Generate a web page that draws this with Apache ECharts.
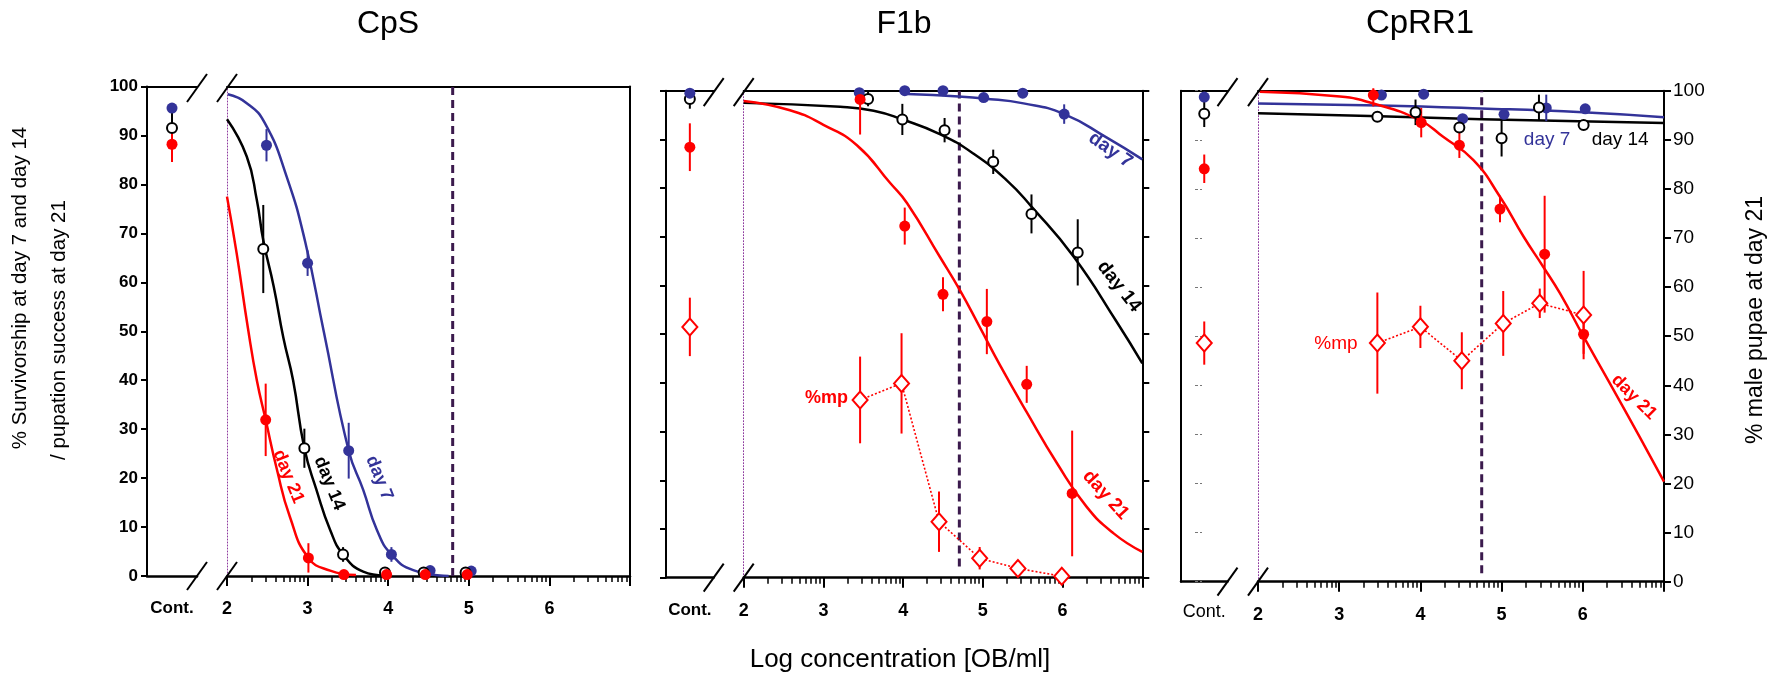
<!DOCTYPE html>
<html><head><meta charset="utf-8">
<script src="https://cdn.jsdelivr.net/npm/echarts@6/dist/echarts.min.js"></script>
<style>html,body{margin:0;padding:0;background:#fff}#c{width:1778px;height:682px}</style>
</head><body><div id="c"></div>
<script>
const FONT = '"Liberation Sans", Arial, Helvetica, sans-serif';
const BLUE = '#333399', RED = '#ff0000', BLACK = '#000000', DASH = '#3b1a4d', DOT = '#8e3a9e';

// ---------- labels / ticks ----------
const panelTitles = ['CpS', 'F1b', 'CpRR1'];
const contLabel = ['Cont.'];
const xMajorTicks = [2, 3, 4, 5, 6];
const xMinorFactors = [2, 3, 4, 5, 6, 7, 8, 9];
const xTitle = 'Log concentration [OB/ml]';
const yTitleLeft = ['% Survivorship at day 7 and day 14', '/ pupation success at day 21'];
const yTitleRight = '% male pupae at day 21';

// ---------- CpS ----------
const cpsCont = [95.6, 91.5, 88.2];          // day7, day14, day21
const cpsContErr = [0.8, 4.0, 3.6];
const cpsD7Conc = [2.49, 3.0, 3.51, 4.04, 4.52, 5.03];
const cpsD7Val = [88.0, 63.9, 25.6, 4.4, 1.1, 1.0];
const cpsD7Err = [3.3, 2.6, 5.7, 1.5, 0, 0];
const cpsD14Conc = [2.45, 2.96, 3.44, 3.96, 4.44, 4.96];
const cpsD14Val = [66.8, 26.1, 4.4, 0.7, 0.7, 0.7];
const cpsD14Err = [9.0, 4.0, 1.5, 0, 0, 0];
const cpsD21Conc = [2.48, 3.01, 3.45, 3.98, 4.46, 4.98];
const cpsD21Val = [31.9, 3.7, 0.3, 0.3, 0.3, 0.3];
const cpsD21Err = [7.4, 3.0, 0, 0, 0, 0];
const cpsD7FitConc = [2.01, 2.245, 2.47, 2.74, 2.97, 3.2, 3.51, 3.69, 3.86, 4.04, 4.31, 4.75];
const cpsD7FitVal = [98.4, 96.6, 92.5, 81.6, 68.3, 50.0, 25.6, 17.6, 9.4, 4.4, 1.2, 0.0];
const cpsD14FitConc = [2.0, 2.245, 2.37, 2.45, 2.58, 2.7, 2.82, 2.96, 3.11, 3.28, 3.44, 3.69, 3.95];
const cpsD14FitVal = [93.3, 85.7, 76.8, 68.6, 59.1, 48.6, 40.0, 26.1, 17.6, 9.4, 4.4, 0.9, 0.1];
const cpsD21FitConc = [2.0, 2.12, 2.26, 2.37, 2.48, 2.62, 2.78, 3.01, 3.28, 3.6];
const cpsD21FitVal = [77.5, 65.9, 50.6, 40.0, 31.9, 21.7, 12.1, 3.7, 1.1, 0.2];
const cpsDash = [4.80, 0, 100];

// ---------- F1b ----------
const f1bCont = [99.5, 98.3, 88.4];
const f1bContErr = [0.5, 2.0, 4.9];
const f1bContMp = [51.5];
const f1bContMpErr = [6.0];
const f1bD7Conc = [3.45, 4.02, 4.50, 5.01, 5.50, 6.02];
const f1bD7Val = [99.6, 100, 100, 98.6, 99.5, 95.2];
const f1bD7Err = [0, 0, 0, 0, 0, 2.0];
const f1bD14Conc = [3.56, 3.99, 4.52, 5.13, 5.61, 6.19];
const f1bD14Val = [98.3, 94.1, 91.9, 85.4, 74.7, 66.8];
const f1bD14Err = [1.5, 3.2, 2.5, 2.5, 4.0, 6.8];
const f1bD21Conc = [3.46, 4.02, 4.50, 5.05, 5.55, 6.12];
const f1bD21Val = [98.2, 72.2, 58.2, 52.6, 39.7, 17.3];
const f1bD21Err = [7.2, 3.8, 3.5, 6.7, 3.8, 12.9];
const f1bMpConc = [3.46, 3.98, 4.45, 4.96, 5.44, 5.99];
const f1bMpVal = [36.5, 39.9, 11.5, 4.0, 1.9, 0.3];
const f1bMpErr = [8.9, 10.3, 6.2, 2.3, 1.5, 0];
const f1bD7FitConc = [4.05, 4.7, 5.01, 5.51, 6.02, 6.55, 7.0];
const f1bD7FitVal = [99.3, 98.8, 98.4, 97.4, 95.2, 90.4, 85.9];
const f1bD14FitConc = [2.0, 3.21, 3.63, 3.99, 4.46, 4.88, 5.30, 5.61, 6.14, 6.68, 7.0];
const f1bD14FitVal = [97.5, 96.7, 95.9, 94.1, 91.1, 87.1, 81.6, 76.2, 65.9, 52.5, 44.0];
const f1bD21FitConc = [2.0, 2.58, 3.0, 3.42, 3.84, 4.05, 4.46, 4.71, 4.96, 5.22, 5.55, 5.93, 6.30, 6.64, 7.0];
const f1bD21FitVal = [97.9, 96.0, 93.0, 88.8, 81.0, 76.9, 65.9, 59.1, 51.5, 43.5, 34.0, 23.5, 14.6, 9.1, 5.3];
const f1bDash = [4.705, 2.3, 100];

// ---------- CpRR1 ----------
const cprCont = [98.7, 95.3, 84.1];
const cprContErr = [0.5, 2.7, 2.9];
const cprContMp = [48.6];
const cprContMpErr = [4.4];
const cprD7Conc = [3.52, 4.04, 4.52, 5.03, 5.55, 6.03];
const cprD7Val = [99.1, 99.3, 94.3, 95.2, 96.5, 96.3];
const cprD7Err = [0, 0, 0, 0, 2.7, 0];
const cprD14Conc = [3.47, 3.94, 4.48, 5.0, 5.46, 6.01];
const cprD14Val = [94.7, 95.6, 92.5, 90.3, 96.6, 93.0];
const cprD14Err = [0, 2.6, 1.0, 3.7, 2.6, 0];
const cprD21Conc = [3.42, 4.01, 4.48, 4.98, 5.53, 6.01];
const cprD21Val = [99.1, 93.5, 88.9, 75.9, 66.7, 50.4];
const cprD21Err = [2.3, 3.0, 2.6, 2.7, 11.9, 4.0];
const cprMpConc = [3.47, 4.0, 4.51, 5.02, 5.47, 6.01];
const cprMpVal = [48.6, 51.9, 45.0, 52.6, 56.7, 54.3];
const cprMpErr = [10.3, 4.3, 5.8, 6.6, 3.0, 9.0];
const cprD7FitConc = [2.0, 3.5, 4.75, 6.0, 7.0];
const cprD7FitVal = [97.4, 97.0, 96.4, 95.6, 94.6];
const cprD14FitConc = [2.0, 3.5, 4.75, 7.0];
const cprD14FitVal = [95.4, 94.8, 94.2, 93.4];
const cprD21FitConc = [2.02, 3.01, 3.42, 3.99, 4.28, 4.65, 4.98, 5.27, 5.51, 5.72, 6.01, 6.33, 6.70, 7.0];
const cprD21FitVal = [99.8, 98.8, 97.4, 94.0, 90.6, 85.9, 78.4, 70.3, 64.2, 58.7, 49.9, 40.5, 29.5, 20.4];
const cprDash = [4.755, 1.7, 100];

// ---------- layout ----------
const grids = [
  { left: 147, top: 86.5, width: 50, height: 489.5 },
  { left: 227, top: 86.5, width: 403, height: 489.5 },
  { left: 666, top: 90.7, width: 47.7, height: 487 },
  { left: 743.7, top: 90.7, width: 398.6, height: 487 },
  { left: 1181, top: 90.7, width: 46.5, height: 491 },
  { left: 1258, top: 90.7, width: 406, height: 491 }
];

const minorTicks = [];
for (let d = 2; d < 7; d++) xMinorFactors.forEach(k => minorTicks.push(d + Math.log10(k)));

const xAxes = [], yAxes = [];
function addX(o) { xAxes.push(Object.assign({ splitLine: { show: false }, axisLine: { onZero: false } }, o)); return xAxes.length - 1; }
function addY(o) { yAxes.push(Object.assign({ type: 'value', min: 0, max: 100, interval: 10, splitLine: { show: false } }, o)); return yAxes.length - 1; }

const lineBlack = (w) => ({ show: true, onZero: false, lineStyle: { color: BLACK, width: w } });
const noTick = { show: false }, noLabel = { show: false };

const P = []; // per-panel axis indices
[0, 1, 2].forEach(p => {
  const gc = p * 2, gm = p * 2 + 1;
  const contBold = p < 2 ? 'bold' : 'normal';
  const cx = addX({ gridIndex: gc, type: 'category', data: contLabel, position: 'bottom',
    axisLine: lineBlack(2.5), axisTick: { alignWithLabel: true, length: 9, lineStyle: { color: BLACK, width: 2 } },
    axisLabel: { margin: p < 2 ? 24 : 21, fontSize: p < 2 ? 17 : 18, fontWeight: contBold, color: BLACK, fontFamily: FONT } });
  addX({ gridIndex: gc, type: 'value', min: 0, max: 1, position: 'top', axisLine: lineBlack(2), axisTick: noTick, axisLabel: noLabel });
  const mx = addX({ gridIndex: gm, type: 'value', min: 2, max: 7, interval: 1, position: 'bottom',
    axisLine: lineBlack(2.5), axisTick: { length: 10, lineStyle: { color: BLACK, width: 2 } },
    axisLabel: { customValues: xMajorTicks, margin: 24, fontSize: 18, fontWeight: 'bold', color: BLACK, fontFamily: FONT } });
  addX({ gridIndex: gm, type: 'value', min: 2, max: 7, position: 'bottom', axisLine: { show: false, onZero: false },
    axisTick: { show: true, length: 6, customValues: minorTicks, lineStyle: { color: BLACK, width: 1.5 } }, axisLabel: noLabel });
  addX({ gridIndex: gm, type: 'value', min: 2, max: 7, position: 'top', axisLine: lineBlack(2), axisTick: noTick, axisLabel: noLabel });

  let cy;
  if (p === 0) {
    cy = addY({ gridIndex: gc, position: 'left', axisLine: lineBlack(2), axisTick: { length: 6, lineStyle: { color: BLACK, width: 2 } },
      axisLabel: { margin: 9, fontSize: 17, fontWeight: 'bold', color: BLACK, fontFamily: FONT } });
  } else if (p === 1) {
    cy = addY({ gridIndex: gc, position: 'left', axisLine: lineBlack(2), axisTick: { length: 6, lineStyle: { color: BLACK, width: 2 } }, axisLabel: noLabel });
  } else {
    cy = addY({ gridIndex: gc, position: 'left', axisLine: lineBlack(2), axisTick: noTick, axisLabel: noLabel });
    addY({ gridIndex: gc, position: 'left', offset: -14, axisLine: { show: false },
      axisTick: { show: true, inside: true, length: 7, lineStyle: { color: '#777', width: 1.2, type: [3, 2] } }, axisLabel: noLabel });
  }
  addY({ gridIndex: gm, position: 'left', axisLine: { show: true, lineStyle: { color: DOT, width: 1, type: [1, 2] } }, axisTick: noTick, axisLabel: noLabel });
  let my;
  if (p === 0) {
    my = addY({ gridIndex: gm, position: 'right', axisLine: lineBlack(2), axisTick: noTick, axisLabel: noLabel });
  } else if (p === 1) {
    my = addY({ gridIndex: gm, position: 'right', axisLine: lineBlack(2), axisTick: { length: 7, lineStyle: { color: BLACK, width: 2 } }, axisLabel: noLabel });
  } else {
    my = addY({ gridIndex: gm, position: 'right', axisLine: lineBlack(2), axisTick: { length: 7, lineStyle: { color: BLACK, width: 2 } },
      axisLabel: { margin: 9, fontSize: 19, color: BLACK, fontFamily: FONT } });
  }
  P.push({ cx, cy, mx, my });
});

// ---------- series helpers ----------
const series = [];
function fit(p, conc, val, color) {
  series.push({ type: 'line', xAxisIndex: P[p].mx, yAxisIndex: P[p].my, data: conc.map((c, i) => [c, val[i]]),
    smooth: 0.5, symbol: 'none', silent: true, z: 2, lineStyle: { color, width: 2.5 } });
}
function errs(xi, yi, conc, val, err, color, w) {
  series.push({ type: 'custom', xAxisIndex: xi, yAxisIndex: yi, z: 3, silent: true,
    data: conc.map((c, i) => [c, Math.max(0, val[i] - err[i]), Math.min(100.5, val[i] + err[i])]),
    encode: { x: 0, y: [1, 2] },
    renderItem: (params, api) => {
      const a = api.coord([api.value(0), api.value(1)]), b = api.coord([api.value(0), api.value(2)]);
      return { type: 'line', shape: { x1: a[0], y1: a[1], x2: b[0], y2: b[1] }, style: { stroke: color, lineWidth: w || 2 } };
    } });
}
function pts(xi, yi, conc, val, kind, color) {
  const base = { type: 'scatter', xAxisIndex: xi, yAxisIndex: yi, z: 4, silent: true, data: conc.map((c, i) => [c, val[i]]) };
  if (kind === 'filled') Object.assign(base, { symbol: 'circle', symbolSize: 11, itemStyle: { color, opacity: 1 } });
  if (kind === 'open') Object.assign(base, { symbol: 'circle', symbolSize: 10, itemStyle: { color: '#fff', borderColor: color, borderWidth: 2, opacity: 1 } });
  if (kind === 'diamond') Object.assign(base, { symbol: 'diamond', symbolSize: [15, 17], itemStyle: { color: '#fff', borderColor: color, borderWidth: 2, opacity: 1 } });
  series.push(base);
}
function mpLine(p, conc, val) {
  series.push({ type: 'line', xAxisIndex: P[p].mx, yAxisIndex: P[p].my, data: conc.map((c, i) => [c, val[i]]),
    symbol: 'none', silent: true, z: 2, lineStyle: { color: RED, width: 1.6, type: [2, 2] } });
}
function dash(p, d) {
  series.push({ type: 'line', xAxisIndex: P[p].mx, yAxisIndex: P[p].my, data: [[d[0], d[1]], [d[0], d[2]]],
    symbol: 'none', silent: true, z: 1, lineStyle: { color: DASH, width: 3, type: [8, 5] } });
}
function contGroup(p, vals, ev) {
  const colors = [BLUE, BLACK, RED], kinds = ['filled', 'open', 'filled'];
  [1, 2, 0].forEach(i => errs(P[p].cx, P[p].cy, [0], [vals[i]], [ev[i]], colors[i]));
  [1, 2, 0].forEach(i => pts(P[p].cx, P[p].cy, [0], [vals[i]], kinds[i], colors[i]));
}

// CpS
dash(0, cpsDash);
fit(0, cpsD7FitConc, cpsD7FitVal, BLUE);
fit(0, cpsD14FitConc, cpsD14FitVal, BLACK);
fit(0, cpsD21FitConc, cpsD21FitVal, RED);
errs(P[0].mx, P[0].my, cpsD7Conc, cpsD7Val, cpsD7Err, BLUE);
errs(P[0].mx, P[0].my, cpsD14Conc, cpsD14Val, cpsD14Err, BLACK);
errs(P[0].mx, P[0].my, cpsD21Conc, cpsD21Val, cpsD21Err, RED);
pts(P[0].mx, P[0].my, cpsD7Conc, cpsD7Val, 'filled', BLUE);
pts(P[0].mx, P[0].my, cpsD14Conc, cpsD14Val, 'open', BLACK);
pts(P[0].mx, P[0].my, cpsD21Conc, cpsD21Val, 'filled', RED);
contGroup(0, cpsCont, cpsContErr);

// F1b
dash(1, f1bDash);
fit(1, f1bD7FitConc, f1bD7FitVal, BLUE);
fit(1, f1bD14FitConc, f1bD14FitVal, BLACK);
fit(1, f1bD21FitConc, f1bD21FitVal, RED);
mpLine(1, f1bMpConc, f1bMpVal);
errs(P[1].mx, P[1].my, f1bD7Conc, f1bD7Val, f1bD7Err, BLUE);
errs(P[1].mx, P[1].my, f1bD14Conc, f1bD14Val, f1bD14Err, BLACK);
errs(P[1].mx, P[1].my, f1bD21Conc, f1bD21Val, f1bD21Err, RED);
errs(P[1].mx, P[1].my, f1bMpConc, f1bMpVal, f1bMpErr, RED);
pts(P[1].mx, P[1].my, f1bD7Conc, f1bD7Val, 'filled', BLUE);
pts(P[1].mx, P[1].my, f1bD14Conc, f1bD14Val, 'open', BLACK);
pts(P[1].mx, P[1].my, f1bD21Conc, f1bD21Val, 'filled', RED);
pts(P[1].mx, P[1].my, f1bMpConc, f1bMpVal, 'diamond', RED);
contGroup(1, f1bCont, f1bContErr);
errs(P[1].cx, P[1].cy, [0], f1bContMp, f1bContMpErr, RED);
pts(P[1].cx, P[1].cy, [0], f1bContMp, 'diamond', RED);

// CpRR1
dash(2, cprDash);
fit(2, cprD7FitConc, cprD7FitVal, BLUE);
fit(2, cprD14FitConc, cprD14FitVal, BLACK);
fit(2, cprD21FitConc, cprD21FitVal, RED);
mpLine(2, cprMpConc, cprMpVal);
errs(P[2].mx, P[2].my, cprD7Conc, cprD7Val, cprD7Err, BLUE);
errs(P[2].mx, P[2].my, cprD14Conc, cprD14Val, cprD14Err, BLACK);
errs(P[2].mx, P[2].my, cprD21Conc, cprD21Val, cprD21Err, RED);
errs(P[2].mx, P[2].my, cprMpConc, cprMpVal, cprMpErr, RED);
pts(P[2].mx, P[2].my, cprD7Conc, cprD7Val, 'filled', BLUE);
pts(P[2].mx, P[2].my, cprD14Conc, cprD14Val, 'open', BLACK);
pts(P[2].mx, P[2].my, cprD21Conc, cprD21Val, 'filled', RED);
pts(P[2].mx, P[2].my, cprMpConc, cprMpVal, 'diamond', RED);
contGroup(2, cprCont, cprContErr);
errs(P[2].cx, P[2].cy, [0], cprContMp, cprContMpErr, RED);
pts(P[2].cx, P[2].cy, [0], cprContMp, 'diamond', RED);

// ---------- static graphics ----------
function txt(x, y, text, size, opts) {
  opts = opts || {};
  return { type: 'text', x, y, rotation: opts.rot || 0, z: 10, silent: true,
    style: { text, fill: opts.color || BLACK, fontSize: size, fontWeight: opts.weight || 'normal', fontFamily: FONT,
      align: 'center', verticalAlign: 'middle', textAlign: 'center', textVerticalAlign: 'middle' } };
}
function slash(cx, cy) {
  return { type: 'line', z: 10, silent: true, shape: { x1: cx - 10, y1: cy + 14, x2: cx + 10, y2: cy - 14 }, style: { stroke: BLACK, lineWidth: 2 } };
}
const graphics = [
  txt(388, 24, panelTitles[0], 32), txt(904, 24, panelTitles[1], 32), txt(1420, 24, panelTitles[2], 33),
  txt(900, 660, xTitle, 26),
  txt(20, 288, yTitleLeft[0], 20.5, { rot: Math.PI / 2 }),
  txt(59, 330, yTitleLeft[1], 20.5, { rot: Math.PI / 2 }),
  txt(1756, 320, yTitleRight, 23, { rot: Math.PI / 2 })
];
grids.forEach((g, i) => {
  const xEdge = i % 2 === 0 ? g.left + g.width : g.left;
  graphics.push(slash(xEdge, g.top + 1.5));
  graphics.push(slash(xEdge, g.top + g.height));
});

const chart = echarts.init(document.getElementById('c'), null, { renderer: 'canvas' });
chart.setOption({
  animation: false,
  backgroundColor: '#fff',
  textStyle: { fontFamily: FONT },
  grid: grids,
  xAxis: xAxes,
  yAxis: yAxes,
  series,
  graphic: graphics
});

// ---------- annotations (positioned through the axes) ----------
const notes = [
  { p: 0, c: 2.76, v: 20.3, t: 'day 21', color: RED, rot: -68, w: 'bold', s: 18 },
  { p: 0, c: 3.27, v: 18.9, t: 'day 14', color: BLACK, rot: -68, w: 'bold', s: 18 },
  { p: 0, c: 3.89, v: 20.0, t: 'day 7', color: BLUE, rot: -68, w: 'bold', s: 18 },
  { p: 1, c: 6.60, v: 87.8, t: 'day 7', color: BLUE, rot: -35, w: 'bold', s: 19 },
  { p: 1, c: 6.71, v: 59.8, t: 'day 14', color: BLACK, rot: -52, w: 'bold', s: 19 },
  { p: 1, c: 6.54, v: 17.0, t: 'day 21', color: RED, rot: -48, w: 'bold', s: 19 },
  { p: 1, c: 3.04, v: 36.8, t: '%mp', color: RED, rot: 0, w: 'bold', s: 18 },
  { p: 2, c: 5.56, v: 90.0, t: 'day 7', color: BLUE, rot: 0, w: 'normal', s: 19 },
  { p: 2, c: 6.46, v: 90.0, t: 'day 14', color: BLACK, rot: 0, w: 'normal', s: 19 },
  { p: 2, c: 2.96, v: 48.4, t: '%mp', color: RED, rot: 0, w: 'normal', s: 19 },
  { p: 2, c: 6.63, v: 37.6, t: 'day 21', color: RED, rot: -45, w: 'bold', s: 18 }
];
const noteGraphics = notes.map(n => {
  const px = chart.convertToPixel({ xAxisIndex: P[n.p].mx, yAxisIndex: P[n.p].my }, [n.c, n.v]);
  return txt(px[0], px[1], n.t, n.s, { color: n.color, rot: n.rot * Math.PI / 180, weight: n.w });
});
chart.setOption({ graphic: graphics.concat(noteGraphics) });
</script>
</body></html>
